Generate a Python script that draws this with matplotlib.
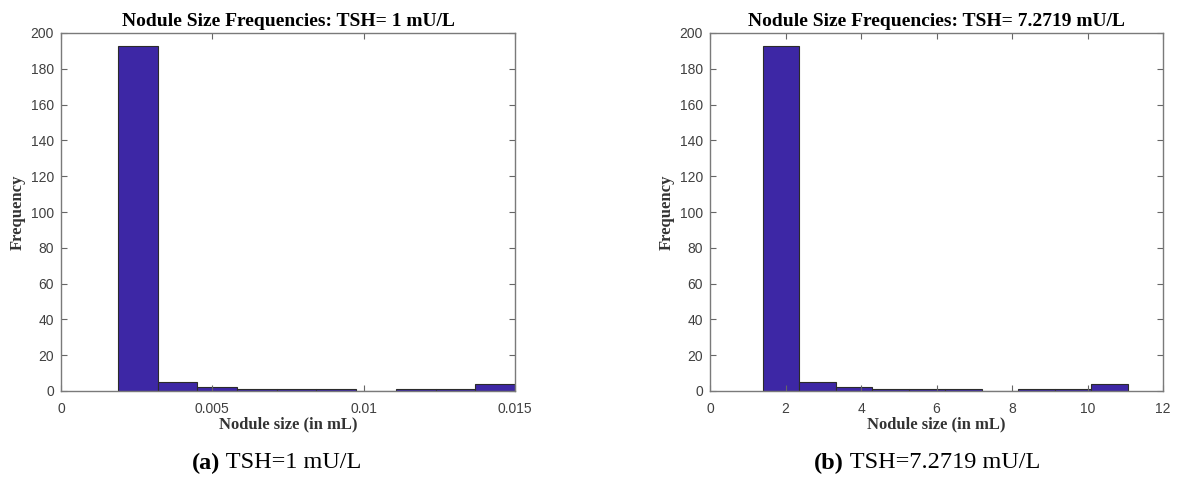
import numpy as np
import matplotlib.pyplot as plt

# histogram data (10 bins each)
counts_a = [193, 5, 2, 1, 1, 1, 0, 1, 1, 4]
edges_a = np.linspace(0.00188, 0.015, 11)
counts_b = [193, 5, 2, 1, 1, 1, 0, 1, 1, 4]
edges_b = np.linspace(1.40, 11.07, 11)

titles = ["Nodule Size Frequencies: TSH= 1 mU/L",
          "Nodule Size Frequencies: TSH= 7.2719 mU/L"]
captions = [("(a)", " TSH=1 mU/L"), ("(b)", " TSH=7.2719 mU/L")]
xlims = [(0, 0.015), (0, 12)]
xticks = [[0, 0.005, 0.01, 0.015], [0, 2, 4, 6, 8, 10, 12]]
xticklabels = [["0", "0.005", "0.01", "0.015"],
               ["0", "2", "4", "6", "8", "10", "12"]]

bar_color = "#3d27a5"
tick_color = "#404040"
serif = ["Liberation Serif", "DejaVu Serif"]
sans = ["Liberation Sans", "DejaVu Sans"]

W, H = 1177, 478
fig = plt.figure(figsize=(W / 100, H / 100), dpi=100)

boxes = [(61, 515), (710, 1163)]
cap_x = [277, 927]
top, bottom = 33, 391
cap_size = 17.5

data = [(edges_a, counts_a), (edges_b, counts_b)]
for i, (edges, counts) in enumerate(data):
    x0, x1 = boxes[i]
    ax = fig.add_axes([x0 / W, 1 - bottom / H, (x1 - x0) / W, (bottom - top) / H])
    centers = (edges[:-1] + edges[1:]) / 2
    ax.hist(centers, bins=edges, weights=counts, color=bar_color,
            edgecolor="#2b2b2b", linewidth=0.8)
    ax.set_xlim(*xlims[i])
    ax.set_ylim(0, 200)
    ax.set_yticks(range(0, 201, 20))
    ax.set_xticks(xticks[i])
    ax.set_xticklabels(xticklabels[i])
    ax.tick_params(direction="in", length=4, width=0.8, colors="#666666",
                   labelcolor=tick_color, labelsize=10, top=True, right=True)
    ax.tick_params(axis="y", pad=5)
    ax.tick_params(axis="x", pad=8)
    for lab in ax.get_xticklabels() + ax.get_yticklabels():
        lab.set_family(sans)
    for s in ax.spines.values():
        s.set_color("#7a7a7a")
        s.set_linewidth(1.0)
    ax.set_title(titles[i], fontsize=14, fontweight="bold", family=serif, pad=5)
    ax.set_xlabel("Nodule size (in mL)", fontsize=12, fontweight="bold",
                  family=serif, color="#333333", va="center")
    ax.set_ylabel("Frequency", fontsize=12, fontweight="bold",
                  family=serif, color="#333333", va="center")
    ax.xaxis.set_label_coords(0.5, -(424 - bottom) / (bottom - top))
    ax.yaxis.set_label_coords(-(x0 - (x0 - 43)) / (x1 - x0), 0.5)

    # sub-figure caption, "(a)" bold and the rest regular, centred as a whole
    lbl, rest = captions[i]
    r = fig.canvas.get_renderer()
    t1 = fig.text(0, 1 - 463 / H, lbl, fontsize=cap_size, fontweight="bold",
                  family=serif, va="center")
    t2 = fig.text(0, 1 - 463 / H, rest, fontsize=cap_size,
                  family=serif, va="center")
    w1 = t1.get_window_extent(renderer=r).width
    w2 = t2.get_window_extent(renderer=r).width
    left = cap_x[i] - (w1 + w2) / 2
    t1.set_x(left / W)
    t2.set_x((left + w1) / W)

fig.savefig("out.png", dpi=100)
